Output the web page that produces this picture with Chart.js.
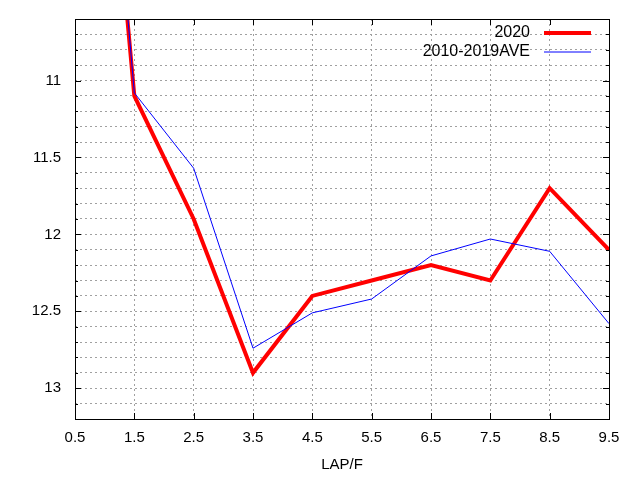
<!DOCTYPE html>
<html>
<head>
<meta charset="utf-8">
<script src="https://cdn.jsdelivr.net/npm/chart.js@4"></script>
<style>
    html, body { margin: 0; padding: 0; background: #ffffff; }
    #wrap { width: 640px; height: 480px; }
</style>
</head>
<body>
<div id="wrap"><canvas id="lapChart"></canvas></div>
<script>
const lapX = [0.5, 1.5, 2.5, 3.5, 4.5, 5.5, 6.5, 7.5, 8.5, 9.5];
const values2020 = [6.85, 11.1, 11.9, 12.9, 12.4, 12.3, 12.2, 12.3, 11.7, 12.1];
const valuesAvg = [6.6, 11.08, 11.57, 12.74, 12.51, 12.42, 12.14, 12.03, 12.11, 12.58];
const seriesLabels = ['2020', '2010-2019AVE'];
const seriesColors = ['#ff0000', '#0000ff'];

const FONT = '"Liberation Sans", Arial, sans-serif';

function isMajorY(v) {
    return Math.abs(v * 2 - Math.round(v * 2)) < 1e-6;
}

// frame + inward tick marks like gnuplot, plus the legend inside the plot
const framePlugin = {
    id: 'frame',
    afterDatasetsDraw(chart) {
        const ctx = chart.ctx;
        const area = chart.chartArea;
        const xs = chart.scales.x;
        const ys = chart.scales.y;
        ctx.save();
        ctx.strokeStyle = '#000000';
        ctx.lineWidth = 1;
        ctx.setLineDash([]);
        ctx.beginPath();
        ys.ticks.forEach(t => {
            const y = Math.round(ys.getPixelForValue(t.value)) + 0.5;
            const len = isMajorY(t.value) ? 6 : 3;
            ctx.moveTo(area.left, y);
            ctx.lineTo(area.left + len, y);
            ctx.moveTo(area.right, y);
            ctx.lineTo(area.right - len, y);
        });
        xs.ticks.forEach(t => {
            const x = Math.round(xs.getPixelForValue(t.value)) + 0.5;
            ctx.moveTo(x, area.bottom);
            ctx.lineTo(x, area.bottom - 6);
            ctx.moveTo(x, area.top);
            ctx.lineTo(x, area.top + 6);
        });
        ctx.stroke();
        ctx.strokeRect(Math.round(area.left) + 0.5, Math.round(area.top) + 0.5,
            Math.round(area.right - area.left), Math.round(area.bottom - area.top));

        // legend
        ctx.font = '16px ' + FONT;
        ctx.textAlign = 'right';
        ctx.textBaseline = 'middle';
        chart.data.datasets.forEach((ds, i) => {
            const y = area.top + 14 + i * 19;
            ctx.fillStyle = '#000000';
            ctx.fillText(ds.label, area.right - 79, y);
            ctx.strokeStyle = ds.borderColor;
            ctx.lineWidth = ds.borderWidth;
            ctx.beginPath();
            ctx.moveTo(area.right - 65, y);
            ctx.lineTo(area.right - 18, y);
            ctx.stroke();
        });
        ctx.restore();
    }
};

const ctx = document.getElementById('lapChart').getContext('2d');
new Chart(ctx, {
    type: 'line',
    data: {
        datasets: [{
            label: seriesLabels[0],
            data: lapX.map((x, i) => ({ x: x, y: values2020[i] })),
            borderColor: seriesColors[0],
            backgroundColor: seriesColors[0],
            borderWidth: 4,
            pointRadius: 0,
            tension: 0,
            fill: false,
            order: 1
        }, {
            label: seriesLabels[1],
            data: lapX.map((x, i) => ({ x: x, y: valuesAvg[i] })),
            borderColor: seriesColors[1],
            backgroundColor: seriesColors[1],
            borderWidth: 1,
            pointRadius: 0,
            tension: 0,
            fill: false,
            order: 0
        }]
    },
    options: {
        responsive: true,
        maintainAspectRatio: false,
        animation: false,
        layout: {
            padding: { left: 0, right: 31, top: 19, bottom: 0 }
        },
        plugins: {
            legend: { display: false },
            tooltip: { enabled: false }
        },
        scales: {
            x: {
                type: 'linear',
                min: 0.5,
                max: 9.5,
                afterFit: function (scale) {
                    scale.height = 61;
                    scale.paddingLeft = 0;
                    scale.paddingRight = 0;
                },
                ticks: {
                    stepSize: 1,
                    padding: 10,
                    color: '#000000',
                    font: { family: FONT, size: 15 },
                    maxRotation: 0,
                    autoSkip: false,
                    callback: v => v.toFixed(1)
                },
                grid: {
                    color: '#a0a0a0',
                    lineWidth: 1,
                    drawTicks: false
                },
                border: { display: false, dash: [2, 3] },
                title: {
                    display: true,
                    text: 'LAP/F',
                    color: '#000000',
                    font: { family: FONT, size: 15 },
                    padding: { top: 0, bottom: 6 }
                }
            },
            y: {
                type: 'linear',
                reverse: true,
                min: 10.6,
                max: 13.2,
                afterFit: function (scale) {
                    scale.width = 75;
                    scale.paddingTop = 0;
                    scale.paddingBottom = 0;
                },
                ticks: {
                    stepSize: 0.1,
                    padding: 14,
                    color: '#000000',
                    font: { family: FONT, size: 15 },
                    autoSkip: false,
                    callback: v => isMajorY(v) ? String(Math.round(v * 2) / 2) : ''
                },
                grid: {
                    color: '#a0a0a0',
                    lineWidth: 1,
                    drawTicks: false
                },
                border: { display: false, dash: [2, 3] }
            }
        }
    },
    plugins: [framePlugin]
});
</script>
</body>
</html>
